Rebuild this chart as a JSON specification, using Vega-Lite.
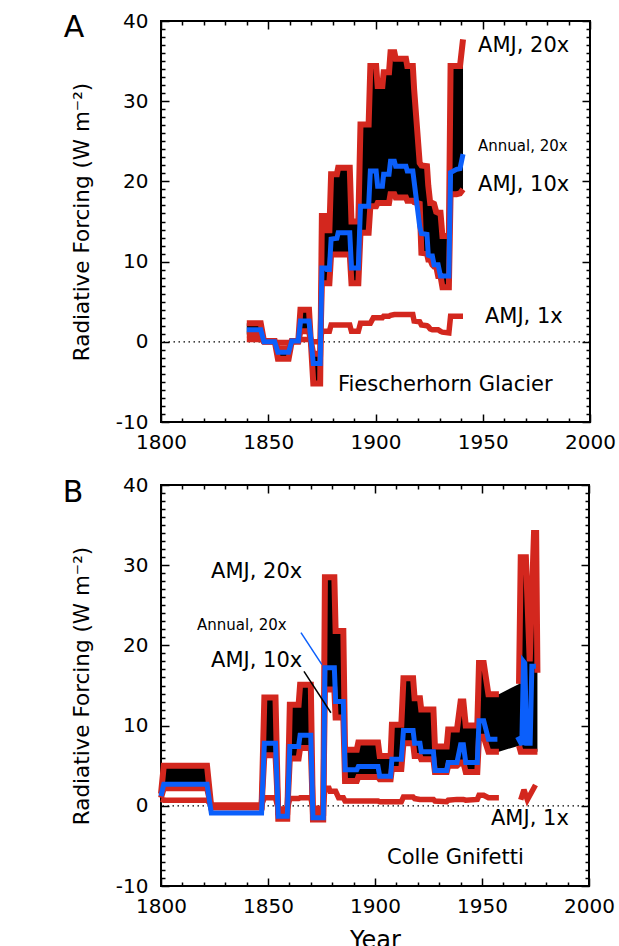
{
  "$schema": "https://vega.github.io/schema/vega-lite/v6.json",
  "padding": {"left": 61, "top": 10, "right": 5, "bottom": 5},
  "spacing": 17,
  "background": "white",
  "config": {
    "view": {"stroke": "black", "strokeWidth": 2},
    "axis": {"labelFont": "DejaVu Sans", "titleFont": "DejaVu Sans", "labelColor": "black", "titleColor": "black", "tickColor": "black", "grid": false, "domain": false},
    "text": {"font": "DejaVu Sans", "fill": "black", "fontWeight": "normal"},
    "line": {"invalid": "filter"},
    "area": {"invalid": "filter"}
  },
  "datasets": {
    "one": [{}],
    "A": [
      {"year": 1840.0, "u": 2.3, "l": 0.9, "b": 1.5, "o": 0.3},
      {"year": 1846.5, "u": 2.3, "l": 0.9, "b": 1.5, "o": 0.3},
      {"year": 1848.0, "u": 0.1, "l": 0.0, "b": 0.0, "o": 0.0},
      {"year": 1853.0, "u": 0.1, "l": 0.0, "b": 0.0, "o": 0.0},
      {"year": 1854.5, "u": -2.1, "l": -0.8, "b": -1.3, "o": -0.1},
      {"year": 1859.5, "u": -2.1, "l": -0.8, "b": -1.3, "o": -0.1},
      {"year": 1861.0, "u": 0.1, "l": 0.0, "b": 0.1, "o": 0.0},
      {"year": 1864.0, "u": 0.1, "l": 0.0, "b": 0.1, "o": 0.1},
      {"year": 1865.0, "u": 4.0, "l": 1.3, "b": 2.6, "o": 0.3},
      {"year": 1869.0, "u": 4.0, "l": 1.3, "b": 2.6, "o": 0.3},
      {"year": 1871.0, "u": -5.2, "l": -1.5, "b": -2.7, "o": 0.0},
      {"year": 1874.2, "u": -5.2, "l": -1.5, "b": -2.7, "o": 0.0},
      {"year": 1875.0, "u": 15.7, "l": 7.3, "b": 9.2, "o": 1.3},
      {"year": 1876.8, "u": 15.7, "l": 7.3, "b": 9.2, "o": 1.3},
      {"year": 1877.3, "u": 13.9, "l": 7.3, "b": 9.0, "o": 1.3},
      {"year": 1878.5, "u": 13.9, "l": 7.3, "b": 9.0, "o": 1.3},
      {"year": 1879.3, "u": 20.9, "l": 10.9, "b": 12.8, "o": 2.1},
      {"year": 1882.0, "u": 20.9, "l": 10.9, "b": 12.9, "o": 2.1},
      {"year": 1882.6, "u": 21.7, "l": 10.9, "b": 13.6, "o": 2.1},
      {"year": 1888.0, "u": 21.7, "l": 10.9, "b": 13.6, "o": 2.1},
      {"year": 1888.8, "u": 15.0, "l": 7.3, "b": 9.2, "o": 1.3},
      {"year": 1892.0, "u": 15.0, "l": 7.3, "b": 9.2, "o": 1.3},
      {"year": 1893.0, "u": 27.1, "l": 13.6, "b": 16.9, "o": 2.3},
      {"year": 1896.8, "u": 27.1, "l": 13.6, "b": 16.9, "o": 2.3},
      {"year": 1897.6, "u": 34.4, "l": 16.9, "b": 21.3, "o": 2.3},
      {"year": 1899.0, "u": 34.4, "l": 16.9, "b": 21.3, "o": 3.0},
      {"year": 1900.3, "u": 34.4, "l": 16.9, "b": 21.3, "o": 3.0},
      {"year": 1901.0, "u": 31.9, "l": 17.3, "b": 19.4, "o": 3.0},
      {"year": 1903.2, "u": 31.9, "l": 17.3, "b": 19.4, "o": 3.0},
      {"year": 1903.8, "u": 33.6, "l": 17.3, "b": 20.9, "o": 3.2},
      {"year": 1906.3, "u": 33.6, "l": 17.3, "b": 20.9, "o": 3.2},
      {"year": 1907.0, "u": 36.1, "l": 18.4, "b": 22.5, "o": 3.3},
      {"year": 1908.8, "u": 36.1, "l": 18.4, "b": 22.5, "o": 3.4},
      {"year": 1909.4, "u": 35.3, "l": 18.0, "b": 21.9, "o": 3.4},
      {"year": 1914.2, "u": 35.3, "l": 18.0, "b": 21.9, "o": 3.4},
      {"year": 1914.8, "u": 34.4, "l": 17.6, "b": 21.3, "o": 3.4},
      {"year": 1917.4, "u": 34.4, "l": 17.6, "b": 21.3, "o": 3.4},
      {"year": 1918.0, "u": 31.5, "l": 17.4, "b": 20.0, "o": 2.6},
      {"year": 1920.6, "u": 22.3, "l": 17.2, "b": 14.4, "o": 2.5},
      {"year": 1921.4, "u": 22.0, "l": 11.1, "b": 13.5, "o": 2.1},
      {"year": 1924.0, "u": 21.9, "l": 11.0, "b": 13.4, "o": 2.0},
      {"year": 1924.6, "u": 19.5, "l": 10.25, "b": 10.8, "o": 1.9},
      {"year": 1925.5, "u": 17.3, "l": 10.25, "b": 10.7, "o": 1.6},
      {"year": 1926.5, "u": 17.3, "l": 9.6, "b": 10.7, "o": 1.5},
      {"year": 1927.3, "u": 17.2, "l": 9.4, "b": 9.6, "o": 1.5},
      {"year": 1928.3, "u": 16.2, "l": 9.4, "b": 9.6, "o": 1.5},
      {"year": 1929.2, "u": 16.1, "l": 8.2, "b": 9.6, "o": 1.5},
      {"year": 1930.3, "u": 16.1, "l": 8.2, "b": 8.2, "o": 1.3},
      {"year": 1931.2, "u": 13.2, "l": 6.8, "b": 8.2, "o": 1.2},
      {"year": 1934.2, "u": 13.2, "l": 6.8, "b": 8.2, "o": 1.1},
      {"year": 1935.0, "u": 34.4, "l": 18.4, "b": 21.1, "o": 3.2},
      {"year": 1937.8, "u": 34.4, "l": 18.4, "b": 21.5, "o": 3.2},
      {"year": 1939.4, "u": 34.4, "l": 18.5, "b": 21.6, "o": 3.2},
      {"year": 1940.8, "u": 37.7, "l": 19.0, "b": 23.4, "o": 3.2}
    ],
    "B": [
      {"year": 1800.0, "u": 1.5, "l": 1.0, "b": 1.2, "o": 0.8, "seg": 1},
      {"year": 1801.3, "u": 5.0, "l": 2.2, "b": 2.7, "o": 0.7, "seg": 1},
      {"year": 1821.5, "u": 5.0, "l": 2.2, "b": 2.7, "o": 0.7, "seg": 1},
      {"year": 1823.5, "u": -0.2, "l": -0.1, "b": -0.9, "o": 0.1, "seg": 1},
      {"year": 1847.0, "u": -0.2, "l": -0.1, "b": -0.9, "o": 0.1, "seg": 1},
      {"year": 1848.3, "u": 13.5, "l": 6.3, "b": 7.8, "o": 1.0, "seg": 1},
      {"year": 1853.5, "u": 13.5, "l": 6.3, "b": 7.8, "o": 1.0, "seg": 1},
      {"year": 1854.8, "u": -1.6, "l": -0.8, "b": -1.3, "o": -0.4, "seg": 1},
      {"year": 1859.0, "u": -1.6, "l": -0.8, "b": -1.3, "o": -0.4, "seg": 1},
      {"year": 1860.2, "u": 12.6, "l": 5.9, "b": 7.4, "o": 0.9, "seg": 1},
      {"year": 1864.3, "u": 12.6, "l": 5.9, "b": 7.4, "o": 0.9, "seg": 1},
      {"year": 1865.0, "u": 15.1, "l": 7.2, "b": 8.8, "o": 1.0, "seg": 1},
      {"year": 1870.0, "u": 15.1, "l": 7.2, "b": 8.8, "o": 1.0, "seg": 1},
      {"year": 1871.0, "u": -1.7, "l": -0.9, "b": -1.5, "o": -0.3, "seg": 1},
      {"year": 1875.8, "u": -1.7, "l": -0.9, "b": -1.5, "o": -0.3, "seg": 1},
      {"year": 1876.6, "u": 28.5, "l": 14.5, "b": 17.2, "o": 2.2, "seg": 1},
      {"year": 1878.5, "u": 28.5, "l": 14.5, "b": 17.2, "o": 2.2, "seg": 1},
      {"year": 1879.0, "u": 28.5, "l": 14.5, "b": 17.2, "o": 1.8, "seg": 1},
      {"year": 1881.0, "u": 28.5, "l": 14.5, "b": 17.2, "o": 1.8, "seg": 1},
      {"year": 1881.6, "u": 21.8, "l": 11.0, "b": 13.0, "o": 1.8, "seg": 1},
      {"year": 1883.0, "u": 21.8, "l": 11.0, "b": 13.0, "o": 1.0, "seg": 1},
      {"year": 1885.2, "u": 21.8, "l": 11.0, "b": 13.0, "o": 1.0, "seg": 1},
      {"year": 1886.0, "u": 7.0, "l": 3.1, "b": 4.5, "o": 0.6, "seg": 1},
      {"year": 1891.5, "u": 7.0, "l": 3.1, "b": 4.5, "o": 0.6, "seg": 1},
      {"year": 1892.2, "u": 7.9, "l": 3.6, "b": 4.9, "o": 0.6, "seg": 1},
      {"year": 1901.4, "u": 7.9, "l": 3.6, "b": 4.9, "o": 0.6, "seg": 1},
      {"year": 1902.2, "u": 6.2, "l": 3.3, "b": 3.7, "o": 0.5, "seg": 1},
      {"year": 1907.3, "u": 6.2, "l": 3.3, "b": 3.7, "o": 0.5, "seg": 1},
      {"year": 1907.9, "u": 10.1, "l": 4.6, "b": 5.8, "o": 0.5, "seg": 1},
      {"year": 1912.3, "u": 10.1, "l": 4.6, "b": 5.8, "o": 0.5, "seg": 1},
      {"year": 1913.3, "u": 15.9, "l": 7.8, "b": 9.4, "o": 1.1, "seg": 1},
      {"year": 1917.8, "u": 15.9, "l": 7.8, "b": 9.4, "o": 1.1, "seg": 1},
      {"year": 1918.5, "u": 13.4, "l": 6.2, "b": 7.8, "o": 0.9, "seg": 1},
      {"year": 1921.0, "u": 13.4, "l": 6.2, "b": 7.8, "o": 0.8, "seg": 1},
      {"year": 1921.6, "u": 12.0, "l": 5.8, "b": 6.75, "o": 0.8, "seg": 1},
      {"year": 1927.3, "u": 12.0, "l": 5.8, "b": 6.75, "o": 0.8, "seg": 1},
      {"year": 1928.0, "u": 7.4, "l": 4.2, "b": 4.4, "o": 0.6, "seg": 1},
      {"year": 1933.5, "u": 7.4, "l": 4.2, "b": 4.4, "o": 0.5, "seg": 1},
      {"year": 1934.2, "u": 9.5, "l": 5.0, "b": 5.4, "o": 0.7, "seg": 1},
      {"year": 1938.3, "u": 9.5, "l": 5.0, "b": 5.4, "o": 0.8, "seg": 1},
      {"year": 1940.0, "u": 13.0, "l": 5.4, "b": 7.6, "o": 0.8, "seg": 1},
      {"year": 1941.3, "u": 13.0, "l": 5.4, "b": 7.6, "o": 0.8, "seg": 1},
      {"year": 1942.4, "u": 10.0, "l": 4.2, "b": 5.4, "o": 0.7, "seg": 1},
      {"year": 1947.8, "u": 10.0, "l": 4.2, "b": 5.4, "o": 0.8, "seg": 1},
      {"year": 1948.6, "u": 17.8, "l": 8.6, "b": 10.6, "o": 1.3, "seg": 1},
      {"year": 1950.8, "u": 17.8, "l": 8.6, "b": 10.6, "o": 1.3, "seg": 1},
      {"year": 1953.0, "u": 13.9, "l": 6.75, "b": 8.3, "o": 1.0, "seg": 1},
      {"year": 1957.2, "u": 13.9, "l": 6.75, "b": 8.3, "o": 1.0, "seg": 1},
      {"year": 1957.9, "u": 13.9, "l": 6.75, "b": null, "o": 1.0, "seg": 1},
      {"year": 1966.6, "u": null, "l": null, "b": 8.6, "o": null, "seg": 2},
      {"year": 1967.3, "u": 15.2, "l": 7.5, "b": null, "o": null, "seg": 2},
      {"year": 1968.1, "u": 31.0, "l": 6.75, "b": null, "o": 0.75, "seg": 2},
      {"year": 1968.6, "u": null, "l": null, "b": 7.6, "o": null, "seg": 2},
      {"year": 1969.4, "u": null, "l": null, "b": 18.0, "o": null, "seg": 2},
      {"year": 1969.6, "u": null, "l": null, "b": null, "o": 2.0, "seg": 2},
      {"year": 1970.0, "u": null, "l": null, "b": 17.8, "o": null, "seg": 2},
      {"year": 1970.5, "u": 31.0, "l": 6.75, "b": null, "o": null, "seg": 2},
      {"year": 1970.9, "u": null, "l": null, "b": 7.8, "o": null, "seg": 2},
      {"year": 1971.2, "u": null, "l": null, "b": null, "o": 0.75, "seg": 2},
      {"year": 1972.3, "u": 18.0, "l": 6.75, "b": null, "o": null, "seg": 2},
      {"year": 1972.5, "u": null, "l": null, "b": 7.8, "o": null, "seg": 2},
      {"year": 1973.3, "u": null, "l": null, "b": 17.4, "o": null, "seg": 2},
      {"year": 1974.3, "u": 34.0, "l": 6.75, "b": null, "o": null, "seg": 2},
      {"year": 1975.0, "u": null, "l": null, "b": null, "o": 2.6, "seg": 2},
      {"year": 1975.2, "u": null, "l": null, "b": 17.4, "o": null, "seg": 2},
      {"year": 1975.3, "u": 34.0, "l": 6.75, "b": null, "o": null, "seg": 2},
      {"year": 1975.9, "u": 16.6, "l": 6.75, "b": null, "o": null, "seg": 2}
    ]
  },
  "vconcat": [
    {
      "width": 429,
      "height": 401,
      "data": {"name": "A"},
      "resolve": {"axis": {"x": "independent", "y": "independent"}},
      "layer": [
        {
          "data": {"name": "one"},
          "mark": {"type": "rule", "color": "black", "strokeWidth": 1.2, "strokeDash": [1.5, 3.5]},
          "encoding": {"y": {"datum": 0, "type": "quantitative", "scale": {"domain": [-10, 40], "nice": false, "zero": false}, "axis": null}}
        },
        {
          "mark": {"type": "area", "color": "black", "interpolate": "linear", "invalid": "filter"},
          "encoding": {
            "x": {"field": "year", "type": "quantitative", "scale": {"domain": [1800, 2000], "nice": false, "zero": false},
              "axis": {"orient": "bottom", "title": null, "values": [1800,1810,1820,1830,1840,1850,1860,1870,1880,1890,1900,1910,1920,1930,1940,1950,1960,1970,1980,1990,2000],
                "labelExpr": "datum.value % 50 === 0 ? '' + datum.value : ''",
                "tickSize": {"condition": {"test": "datum.value % 50 === 0", "value": -8}, "value": -4},
                "tickWidth": 1.5, "labelPadding": 18, "labelFontSize": 20, "labelOverlap": false, "labelFlush": false, "labelBound": false, "labelAngle": 0}},
            "y": {"field": "u", "type": "quantitative", "scale": {"domain": [-10, 40], "nice": false, "zero": false},
              "axis": {"orient": "left", "title": "Radiative Forcing (W m⁻²)", "titleFontSize": 21.5, "titleFontWeight": "normal", "titlePadding": 22,
                "values": [-10,-9,-8,-7,-6,-5,-4,-3,-2,-1,0,1,2,3,4,5,6,7,8,9,10,11,12,13,14,15,16,17,18,19,20,21,22,23,24,25,26,27,28,29,30,31,32,33,34,35,36,37,38,39,40],
                "labelExpr": "datum.value % 10 === 0 ? '' + datum.value : ''",
                "tickSize": {"condition": {"test": "datum.value % 10 === 0", "value": -8}, "value": -4},
                "tickWidth": 1.5, "labelPadding": 21, "labelFontSize": 20, "labelOverlap": false, "labelFlush": false, "labelBound": false}},
            "y2": {"field": "l"}
          }
        },
        {
          "mark": {"type": "line", "color": "#d3271e", "strokeWidth": 6, "strokeJoin": "miter", "strokeMiterLimit": 3, "invalid": "filter"},
          "encoding": {
            "x": {"field": "year", "type": "quantitative", "scale": {"domain": [1800, 2000], "nice": false, "zero": false},
              "axis": {"orient": "top", "title": null, "labels": false, "values": [1800,1810,1820,1830,1840,1850,1860,1870,1880,1890,1900,1910,1920,1930,1940,1950,1960,1970,1980,1990,2000],
                "tickSize": {"condition": {"test": "datum.value % 50 === 0", "value": -8}, "value": -4}, "tickWidth": 1.5}},
            "y": {"field": "u", "type": "quantitative", "scale": {"domain": [-10, 40], "nice": false, "zero": false},
              "axis": {"orient": "right", "title": null, "labels": false,
                "values": [-10,-9,-8,-7,-6,-5,-4,-3,-2,-1,0,1,2,3,4,5,6,7,8,9,10,11,12,13,14,15,16,17,18,19,20,21,22,23,24,25,26,27,28,29,30,31,32,33,34,35,36,37,38,39,40],
                "tickSize": {"condition": {"test": "datum.value % 10 === 0", "value": -8}, "value": -4}, "tickWidth": 1.5}}
          }
        },
        {
          "mark": {"type": "line", "color": "#d3271e", "strokeWidth": 6, "strokeJoin": "miter", "strokeMiterLimit": 3, "invalid": "filter"},
          "encoding": {
            "x": {"field": "year", "type": "quantitative", "scale": {"domain": [1800, 2000], "nice": false, "zero": false}, "axis": null},
            "y": {"field": "l", "type": "quantitative", "scale": {"domain": [-10, 40], "nice": false, "zero": false}, "axis": null}
          }
        },
        {
          "mark": {"type": "line", "color": "#d3271e", "strokeWidth": 5.5, "strokeJoin": "miter", "strokeMiterLimit": 3, "invalid": "filter"},
          "encoding": {
            "x": {"field": "year", "type": "quantitative", "scale": {"domain": [1800, 2000], "nice": false, "zero": false}, "axis": null},
            "y": {"field": "o", "type": "quantitative", "scale": {"domain": [-10, 40], "nice": false, "zero": false}, "axis": null}
          }
        },
        {
          "mark": {"type": "line", "color": "#0b5ffb", "strokeWidth": 5, "strokeJoin": "miter", "strokeMiterLimit": 3, "invalid": "filter"},
          "encoding": {
            "x": {"field": "year", "type": "quantitative", "scale": {"domain": [1800, 2000], "nice": false, "zero": false}, "axis": null},
            "y": {"field": "b", "type": "quantitative", "scale": {"domain": [-10, 40], "nice": false, "zero": false}, "axis": null}
          }
        },
        {
          "data": {"name": "one"},
          "mark": {"type": "text", "text": "A", "fontSize": 30, "align": "center", "baseline": "middle", "fill": "black", "fontWeight": "normal"},
          "encoding": {
            "x": {"datum": 1759.4, "type": "quantitative", "scale": {"domain": [1800, 2000], "nice": false, "zero": false}, "axis": null},
            "y": {"datum": 39.1, "type": "quantitative", "scale": {"domain": [-10, 40], "nice": false, "zero": false}, "axis": null}
          }
        },
        {
          "data": {"name": "one"},
          "mark": {"type": "text", "text": "AMJ, 20x", "fontSize": 21, "align": "left", "baseline": "middle", "fill": "black", "fontWeight": "normal"},
          "encoding": {
            "x": {"datum": 1947.8, "type": "quantitative", "scale": {"domain": [1800, 2000], "nice": false, "zero": false}, "axis": null},
            "y": {"datum": 36.9, "type": "quantitative", "scale": {"domain": [-10, 40], "nice": false, "zero": false}, "axis": null}
          }
        },
        {
          "data": {"name": "one"},
          "mark": {"type": "text", "text": "Annual, 20x", "fontSize": 15, "align": "left", "baseline": "middle", "fill": "black", "fontWeight": "normal"},
          "encoding": {
            "x": {"datum": 1947.8, "type": "quantitative", "scale": {"domain": [1800, 2000], "nice": false, "zero": false}, "axis": null},
            "y": {"datum": 24.4, "type": "quantitative", "scale": {"domain": [-10, 40], "nice": false, "zero": false}, "axis": null}
          }
        },
        {
          "data": {"name": "one"},
          "mark": {"type": "text", "text": "AMJ, 10x", "fontSize": 21, "align": "left", "baseline": "middle", "fill": "black", "fontWeight": "normal"},
          "encoding": {
            "x": {"datum": 1947.8, "type": "quantitative", "scale": {"domain": [1800, 2000], "nice": false, "zero": false}, "axis": null},
            "y": {"datum": 19.5, "type": "quantitative", "scale": {"domain": [-10, 40], "nice": false, "zero": false}, "axis": null}
          }
        },
        {
          "data": {"name": "one"},
          "mark": {"type": "text", "text": "AMJ, 1x", "fontSize": 21, "align": "left", "baseline": "middle", "fill": "black", "fontWeight": "normal"},
          "encoding": {
            "x": {"datum": 1951.0, "type": "quantitative", "scale": {"domain": [1800, 2000], "nice": false, "zero": false}, "axis": null},
            "y": {"datum": 3.1, "type": "quantitative", "scale": {"domain": [-10, 40], "nice": false, "zero": false}, "axis": null}
          }
        },
        {
          "data": {"name": "one"},
          "mark": {"type": "text", "text": "Fiescherhorn Glacier", "fontSize": 21, "align": "left", "baseline": "middle", "fill": "black", "fontWeight": "normal"},
          "encoding": {
            "x": {"datum": 1882.5, "type": "quantitative", "scale": {"domain": [1800, 2000], "nice": false, "zero": false}, "axis": null},
            "y": {"datum": -5.4, "type": "quantitative", "scale": {"domain": [-10, 40], "nice": false, "zero": false}, "axis": null}
          }
        }
      ]
    },
    {
      "width": 428,
      "height": 401,
      "data": {"name": "B"},
      "resolve": {"axis": {"x": "independent", "y": "independent"}},
      "layer": [
        {
          "data": {"name": "one"},
          "mark": {"type": "rule", "color": "black", "strokeWidth": 1.2, "strokeDash": [1.5, 3.5]},
          "encoding": {"y": {"datum": 0, "type": "quantitative", "scale": {"domain": [-10, 40], "nice": false, "zero": false}, "axis": null}}
        },
        {
          "mark": {"type": "area", "color": "black", "interpolate": "linear", "invalid": "filter"},
          "encoding": {
            "x": {"field": "year", "type": "quantitative", "scale": {"domain": [1800, 2000], "nice": false, "zero": false},
              "axis": {"orient": "bottom", "title": "Year", "titleFontSize": 24, "titleFontWeight": "normal", "titlePadding": 8, "values": [1800,1810,1820,1830,1840,1850,1860,1870,1880,1890,1900,1910,1920,1930,1940,1950,1960,1970,1980,1990,2000],
                "labelExpr": "datum.value % 50 === 0 ? '' + datum.value : ''",
                "tickSize": {"condition": {"test": "datum.value % 50 === 0", "value": -8}, "value": -4},
                "tickWidth": 1.5, "labelPadding": 18, "labelFontSize": 20, "labelOverlap": false, "labelFlush": false, "labelBound": false, "labelAngle": 0}},
            "y": {"field": "u", "type": "quantitative", "scale": {"domain": [-10, 40], "nice": false, "zero": false},
              "axis": {"orient": "left", "title": "Radiative Forcing (W m⁻²)", "titleFontSize": 21.5, "titleFontWeight": "normal", "titlePadding": 22,
                "values": [-10,-9,-8,-7,-6,-5,-4,-3,-2,-1,0,1,2,3,4,5,6,7,8,9,10,11,12,13,14,15,16,17,18,19,20,21,22,23,24,25,26,27,28,29,30,31,32,33,34,35,36,37,38,39,40],
                "labelExpr": "datum.value % 10 === 0 ? '' + datum.value : ''",
                "tickSize": {"condition": {"test": "datum.value % 10 === 0", "value": -8}, "value": -4},
                "tickWidth": 1.5, "labelPadding": 21, "labelFontSize": 20, "labelOverlap": false, "labelFlush": false, "labelBound": false}},
            "y2": {"field": "l"}
          }
        },
        {
          "mark": {"type": "line", "color": "#d3271e", "strokeWidth": 6, "strokeJoin": "miter", "strokeMiterLimit": 3, "invalid": "filter"},
          "encoding": {
            "x": {"field": "year", "type": "quantitative", "scale": {"domain": [1800, 2000], "nice": false, "zero": false},
              "axis": {"orient": "top", "title": null, "labels": false, "values": [1800,1810,1820,1830,1840,1850,1860,1870,1880,1890,1900,1910,1920,1930,1940,1950,1960,1970,1980,1990,2000],
                "tickSize": {"condition": {"test": "datum.value % 50 === 0", "value": -8}, "value": -4}, "tickWidth": 1.5}},
            "y": {"field": "u", "type": "quantitative", "scale": {"domain": [-10, 40], "nice": false, "zero": false},
              "axis": {"orient": "right", "title": null, "labels": false,
                "values": [-10,-9,-8,-7,-6,-5,-4,-3,-2,-1,0,1,2,3,4,5,6,7,8,9,10,11,12,13,14,15,16,17,18,19,20,21,22,23,24,25,26,27,28,29,30,31,32,33,34,35,36,37,38,39,40],
                "tickSize": {"condition": {"test": "datum.value % 10 === 0", "value": -8}, "value": -4}, "tickWidth": 1.5}},
            "detail": {"field": "seg"}
          }
        },
        {
          "mark": {"type": "line", "color": "#d3271e", "strokeWidth": 6, "strokeJoin": "miter", "strokeMiterLimit": 3, "invalid": "filter"},
          "encoding": {
            "x": {"field": "year", "type": "quantitative", "scale": {"domain": [1800, 2000], "nice": false, "zero": false}, "axis": null},
            "y": {"field": "l", "type": "quantitative", "scale": {"domain": [-10, 40], "nice": false, "zero": false}, "axis": null},
            "detail": {"field": "seg"}
          }
        },
        {
          "mark": {"type": "line", "color": "#d3271e", "strokeWidth": 5.5, "strokeJoin": "miter", "strokeMiterLimit": 3, "invalid": "filter"},
          "encoding": {
            "x": {"field": "year", "type": "quantitative", "scale": {"domain": [1800, 2000], "nice": false, "zero": false}, "axis": null},
            "y": {"field": "o", "type": "quantitative", "scale": {"domain": [-10, 40], "nice": false, "zero": false}, "axis": null},
            "detail": {"field": "seg"}
          }
        },
        {
          "mark": {"type": "line", "color": "#0b5ffb", "strokeWidth": 5, "strokeJoin": "miter", "strokeMiterLimit": 3, "invalid": "filter"},
          "encoding": {
            "x": {"field": "year", "type": "quantitative", "scale": {"domain": [1800, 2000], "nice": false, "zero": false}, "axis": null},
            "y": {"field": "b", "type": "quantitative", "scale": {"domain": [-10, 40], "nice": false, "zero": false}, "axis": null},
            "detail": {"field": "seg"}
          }
        },
        {
          "data": {"name": "one"},
          "mark": {"type": "rule", "color": "#0b5ffb", "strokeWidth": 1.5},
          "encoding": {
            "x": {"datum": 1865.4, "type": "quantitative", "scale": {"domain": [1800, 2000], "nice": false, "zero": false}, "axis": null},
            "y": {"datum": 21.6, "type": "quantitative", "scale": {"domain": [-10, 40], "nice": false, "zero": false}, "axis": null},
            "x2": {"datum": 1875.2},
            "y2": {"datum": 17.6}
          }
        },
        {
          "data": {"name": "one"},
          "mark": {"type": "rule", "color": "black", "strokeWidth": 1.5},
          "encoding": {
            "x": {"datum": 1866.8, "type": "quantitative", "scale": {"domain": [1800, 2000], "nice": false, "zero": false}, "axis": null},
            "y": {"datum": 16.75, "type": "quantitative", "scale": {"domain": [-10, 40], "nice": false, "zero": false}, "axis": null},
            "x2": {"datum": 1879.4},
            "y2": {"datum": 11.6}
          }
        },
        {
          "data": {"name": "one"},
          "mark": {"type": "text", "text": "B", "fontSize": 30, "align": "center", "baseline": "middle", "fill": "black", "fontWeight": "normal"},
          "encoding": {
            "x": {"datum": 1758.9, "type": "quantitative", "scale": {"domain": [1800, 2000], "nice": false, "zero": false}, "axis": null},
            "y": {"datum": 39.0, "type": "quantitative", "scale": {"domain": [-10, 40], "nice": false, "zero": false}, "axis": null}
          }
        },
        {
          "data": {"name": "one"},
          "mark": {"type": "text", "text": "AMJ, 20x", "fontSize": 21, "align": "left", "baseline": "middle", "fill": "black", "fontWeight": "normal"},
          "encoding": {
            "x": {"datum": 1823.4, "type": "quantitative", "scale": {"domain": [1800, 2000], "nice": false, "zero": false}, "axis": null},
            "y": {"datum": 29.1, "type": "quantitative", "scale": {"domain": [-10, 40], "nice": false, "zero": false}, "axis": null}
          }
        },
        {
          "data": {"name": "one"},
          "mark": {"type": "text", "text": "Annual, 20x", "fontSize": 15, "align": "left", "baseline": "middle", "fill": "black", "fontWeight": "normal"},
          "encoding": {
            "x": {"datum": 1816.8, "type": "quantitative", "scale": {"domain": [1800, 2000], "nice": false, "zero": false}, "axis": null},
            "y": {"datum": 22.6, "type": "quantitative", "scale": {"domain": [-10, 40], "nice": false, "zero": false}, "axis": null}
          }
        },
        {
          "data": {"name": "one"},
          "mark": {"type": "text", "text": "AMJ, 10x", "fontSize": 21, "align": "left", "baseline": "middle", "fill": "black", "fontWeight": "normal"},
          "encoding": {
            "x": {"datum": 1823.4, "type": "quantitative", "scale": {"domain": [1800, 2000], "nice": false, "zero": false}, "axis": null},
            "y": {"datum": 18.1, "type": "quantitative", "scale": {"domain": [-10, 40], "nice": false, "zero": false}, "axis": null}
          }
        },
        {
          "data": {"name": "one"},
          "mark": {"type": "text", "text": "AMJ, 1x", "fontSize": 21, "align": "left", "baseline": "middle", "fill": "black", "fontWeight": "normal"},
          "encoding": {
            "x": {"datum": 1954.2, "type": "quantitative", "scale": {"domain": [1800, 2000], "nice": false, "zero": false}, "axis": null},
            "y": {"datum": -1.6, "type": "quantitative", "scale": {"domain": [-10, 40], "nice": false, "zero": false}, "axis": null}
          }
        },
        {
          "data": {"name": "one"},
          "mark": {"type": "text", "text": "Colle Gnifetti", "fontSize": 21, "align": "left", "baseline": "middle", "fill": "black", "fontWeight": "normal"},
          "encoding": {
            "x": {"datum": 1905.6, "type": "quantitative", "scale": {"domain": [1800, 2000], "nice": false, "zero": false}, "axis": null},
            "y": {"datum": -6.5, "type": "quantitative", "scale": {"domain": [-10, 40], "nice": false, "zero": false}, "axis": null}
          }
        }
      ]
    }
  ]
}
